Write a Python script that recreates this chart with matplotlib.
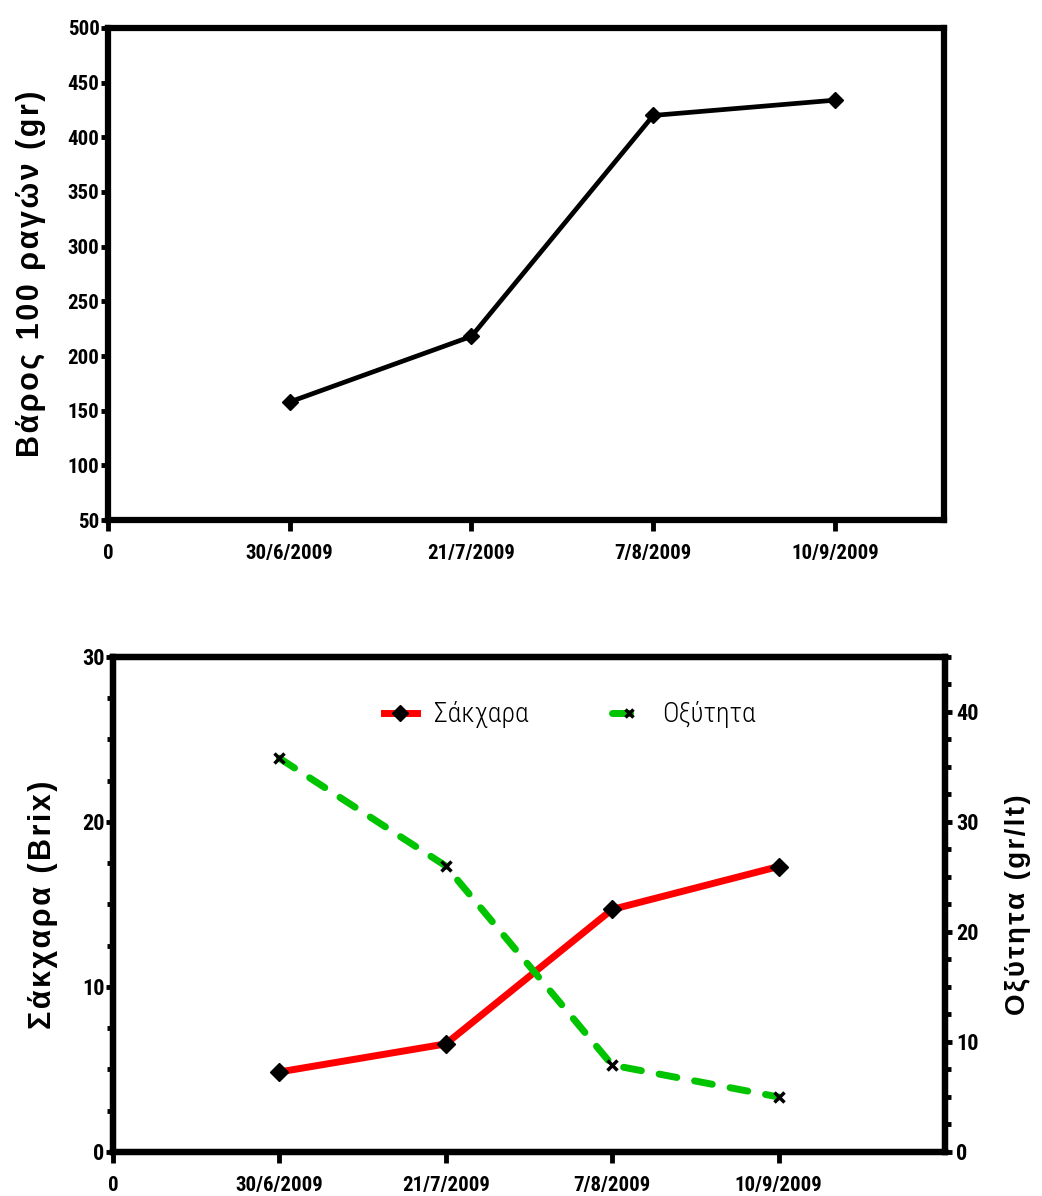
import matplotlib
matplotlib.use('Agg')
import matplotlib.pyplot as plt
from matplotlib.ticker import MultipleLocator
from matplotlib.lines import Line2D

# δεδομένα
dates = ['30/6/2009', '21/7/2009', '7/8/2009', '10/9/2009']
weight = [158, 218, 420, 434]      # Βάρος 100 ραγών (gr)
sugar = [4.85, 6.55, 14.7, 17.3]   # Σάκχαρα (Brix)
acidity = [35.8, 26.0, 7.9, 5.0]   # Οξύτητα (gr/lt)

NARROW = ['Roboto Condensed', 'Liberation Sans', 'DejaVu Sans']
WIDE = ['Liberation Sans', 'DejaVu Sans']
SPINE_W = 4.5
RED = '#ff0000'
GREEN = '#00c400'
DASH = (0, (2.6, 2.6))


def spaced(s):
    # αραιωμένα γράμματα όπως στο πρωτότυπο
    return '\u200a'.join(s)


def style_axes(ax, size=15):
    for side in ['left', 'right', 'top', 'bottom']:
        ax.spines[side].set_linewidth(SPINE_W)
    ax.tick_params(axis='both', which='major', direction='out', width=3.5,
                   length=5, labelsize=size)
    ax.tick_params(axis='x', length=8, pad=9, labelsize=15)
    ax.tick_params(axis='y', which='minor', direction='out', width=3.5, length=4)
    ax.tick_params(axis='y', pad=1)
    for lab in ax.get_xticklabels() + ax.get_yticklabels():
        lab.set_family(NARROW)
        lab.set_fontweight('bold')


fig = plt.figure(figsize=(10.42, 11.96), dpi=100)

# ---- πάνω γράφημα
x = [1, 2, 3, 4]
ax1 = fig.add_axes([0.1036, 0.5652, 0.8024, 0.4114])
ax1.plot(x, weight, color='black', lw=3.4, marker='D', ms=8, mfc='black', mec='black')
ax1.set_xlim(0, 4.6)
ax1.set_ylim(50, 500)
ax1.set_xticks([0] + x)
ax1.set_xticklabels(['0'] + dates)
ax1.yaxis.set_major_locator(MultipleLocator(50))
style_axes(ax1)
ax1.set_ylabel(spaced('Βάρος 100 ραγών (gr)'), fontsize=22, fontweight='bold', family=WIDE)
ax1.yaxis.set_label_coords(-0.074, 0.5)

# ---- κάτω γράφημα
ax2 = fig.add_axes([0.1084, 0.0368, 0.7985, 0.4139])
ax3 = ax2.twinx()
ax2.plot(x, sugar, color=RED, lw=5, marker='D', ms=9, mfc='black', mec='black', zorder=3)
ax3.plot(x, acidity, color=GREEN, lw=5, ls=DASH, dash_capstyle='round', marker='x', ms=7,
         mew=2.5, mec='black', zorder=3)
ax2.set_xlim(0, 5)
ax2.set_ylim(0, 30)
ax3.set_ylim(0, 45)
ax2.set_xticks([0] + x)
ax2.set_xticklabels(['0'] + dates)
ax2.yaxis.set_major_locator(MultipleLocator(10))
ax2.yaxis.set_minor_locator(MultipleLocator(2.5))
ax3.yaxis.set_major_locator(MultipleLocator(10))
ax3.yaxis.set_minor_locator(MultipleLocator(2.5))
style_axes(ax2, size=16)
style_axes(ax3, size=16)
ax3.tick_params(axis='y', pad=3)
ax2.set_ylabel(spaced('Σάκχαρα (Brix)'), fontsize=22, fontweight='bold', family=WIDE)
ax2.yaxis.set_label_coords(-0.066, 0.5)
ax3.set_ylabel(spaced('Οξύτητα (gr/lt)'), fontsize=20, fontweight='bold', family=WIDE)
ax3.yaxis.set_label_coords(1.072, 0.5)

handles = [
    Line2D([], [], color=RED, lw=5, marker='D', ms=8, mfc='black', mec='black'),
    Line2D([], [], color=GREEN, lw=5, ls=DASH, dash_capstyle='round', marker='x', ms=6,
           mew=2.5, mec='black'),
]
ax2.legend(handles, ['Σάκχαρα', 'Οξύτητα'], loc='center', bbox_to_anchor=(0.549, 0.883),
           ncol=2, frameon=False, handlelength=1.2, handletextpad=0.6, columnspacing=3.0,
           prop={'family': NARROW, 'size': 20, 'weight': 300})

fig.savefig('out.png', dpi=100)
